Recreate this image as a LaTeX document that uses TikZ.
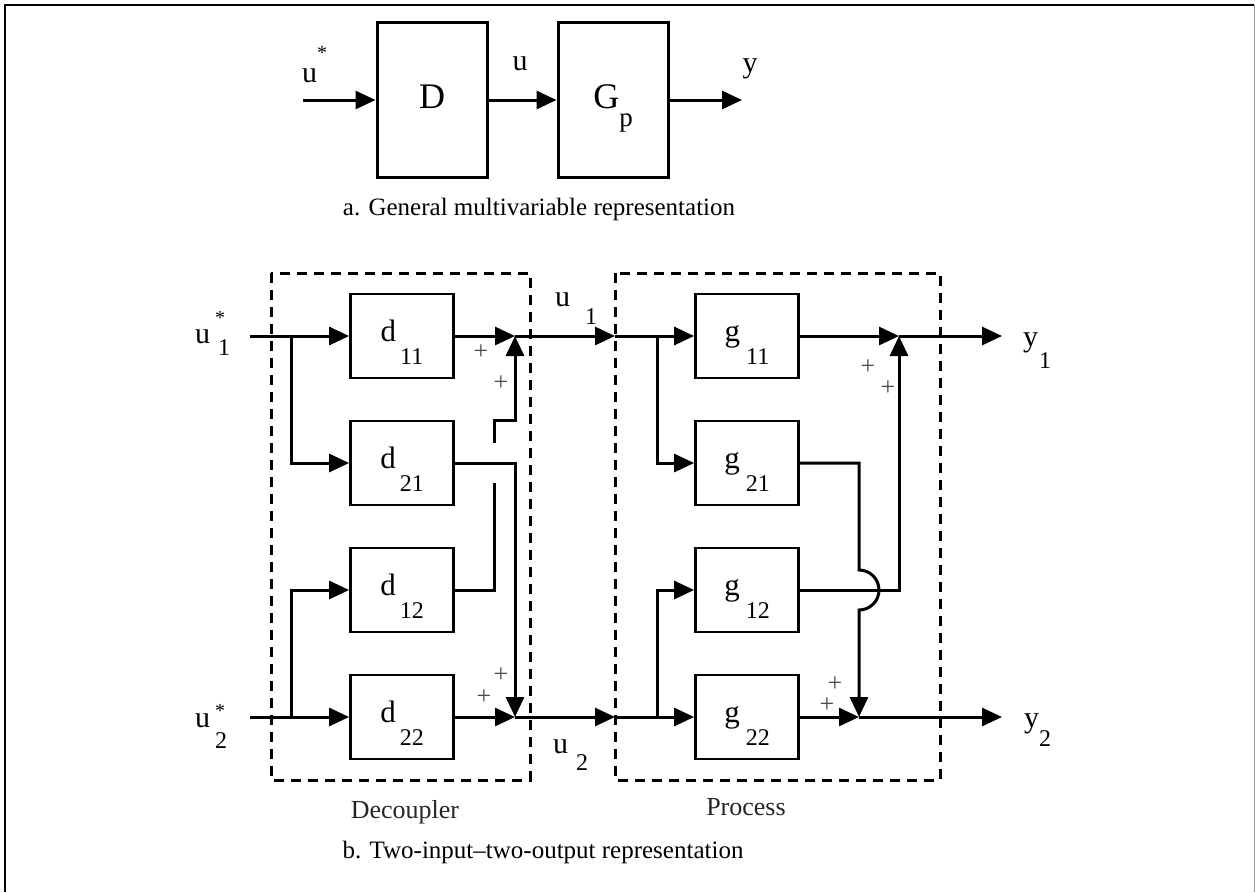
\documentclass[tikz,border=0pt]{standalone}
\usepackage{fontspec}
\setmainfont{Liberation Serif}
\usetikzlibrary{arrows.meta}

\tikzset{
  blk/.style={draw, line width=2.8pt, inner sep=0pt, minimum width=103pt, minimum height=84pt,
    font=\fontsize{31}{31}\selectfont, text height=26pt, text depth=16pt},
  big/.style={draw, line width=3pt, inner sep=0pt, minimum width=110pt, minimum height=155pt,
    font=\fontsize{36}{36}\selectfont, text height=26pt, text depth=10pt},
  sig/.style={line width=3pt},
  arr/.style={sig, -{Triangle[length=20pt,width=18pt]}},
  frm/.style={line width=3pt, dash pattern=on 10pt off 7pt},
  lbl/.style={inner sep=0pt, font=\fontsize{30}{30}\selectfont},
  pls/.style={inner sep=0pt, font=\fontsize{26}{26}\selectfont, text=black!70},
  capt/.style={inner sep=0pt, font=\fontsize{25}{25}\selectfont},
  nam/.style={inner sep=0pt, font=\fontsize{26}{26}\selectfont, text=black!85},
}
\newcommand{\blab}[3]{#1\hspace{#3}\raisebox{-23pt}{\fontsize{24}{24}\selectfont #2}}
\newcommand{\smalltxt}[1]{{\fontsize{24}{24}\selectfont #1}}

\begin{document}
\begin{tikzpicture}[x=1pt,y=-1pt]
\useasboundingbox (0,0) rectangle (1255,892);
% outer frame
\draw[line width=2.6pt] (5,892) -- (5,5) -- (1254,5);
\draw[line width=1pt, black!40] (1254,5) -- (1254,892);

% a. general representation
\node[big] (D) at (432,100) {D};
\node[big] (Gp) at (613,100) {G\raisebox{-18pt}{\fontsize{27}{27}\selectfont p}};
\coordinate (uin) at (303,100);
\coordinate (yout) at (742,100);
\draw[arr] (uin) -- (D);
\draw[arr] (D) -- (Gp);
\draw[arr] (Gp) -- (yout);
\node[lbl, anchor=base west] (ustar) at (302,82) {u\raisebox{23pt}{\fontsize{20}{20}\selectfont *}};
\node[lbl, anchor=base] (ulbl) at (520,70) {u};
\node[lbl, anchor=base] (ylbl) at (750,72) {y};
\node[capt, anchor=base] (capa) at (539,215) {a. General multivariable representation};

% b. two-input--two-output representation
\draw[frm] (271,273) rectangle (530,780);
\draw[frm] (615,273) rectangle (940,780);

\node[blk] (d11) at (402,336) {\blab{d}{11}{4pt}};
\node[blk] (d21) at (402,463) {\blab{d}{21}{4pt}};
\node[blk] (d12) at (402,590) {\blab{d}{12}{4pt}};
\node[blk] (d22) at (402,717) {\blab{d}{22}{4pt}};
\node[blk] (g11) at (747,336) {\blab{g}{11}{6pt}};
\node[blk] (g21) at (747,463) {\blab{g}{21}{6pt}};
\node[blk] (g12) at (747,590) {\blab{g}{12}{6pt}};
\node[blk] (g22) at (747,717) {\blab{g}{22}{6pt}};

\coordinate (s1) at (250,336);
\coordinate (s2) at (250,717);
\coordinate (b1) at (291,336);
\coordinate (b2) at (291,717);
\coordinate (sm1) at (515,336);
\coordinate (sm2) at (515,717);
\coordinate (j1) at (494,483);
\coordinate (j2) at (494,443);
\coordinate (k1) at (494,420);
\coordinate (pin1) at (615,336);
\coordinate (pin2) at (615,717);
\coordinate (c1) at (657,336);
\coordinate (c2) at (657,717);
\coordinate (sp1) at (899,336);
\coordinate (sp2) at (859,717);
\coordinate (h1) at (859,570);
\coordinate (out1) at (1002,336);
\coordinate (out2) at (1002,717);

% decoupler
\draw[sig] (s1) -- (b1);
\draw[arr] (b1) -- (d11);
\draw[arr] (b1) |- (d21);
\draw[sig] (s2) -- (b2);
\draw[arr] (b2) -- (d22);
\draw[arr] (b2) |- (d12);
\draw[arr] (d11) -- (sm1);
\draw[arr] (d22) -- (sm2);
\draw[arr] (d21.east) -| (sm2);
\draw[sig] (d12.east) -| (j1);
\draw[arr] (j2) -- (k1) -| (sm1);

% process
\draw[arr] (sm1) -- (pin1);
\draw[arr] (sm2) -- (pin2);
\draw[sig] (pin1) -- (c1);
\draw[sig] (pin2) -- (c2);
\draw[arr] (c1) -- (g11);
\draw[arr] (c1) |- (g21);
\draw[arr] (c2) -- (g22);
\draw[arr] (c2) |- (g12);
\draw[arr] (g11) -- (sp1);
\draw[arr] (g22) -- (sp2);
\draw[arr] (g12.east) -| (sp1);
\draw[arr] (g21.east) -| (h1) arc[start angle=-90, end angle=90, radius=20] -- (sp2);
\draw[arr] (sp1) -- (out1);
\draw[arr] (sp2) -- (out2);

% signs
\node[pls] (p1) at (481,352) {+};
\node[pls] (p2) at (501,383) {+};
\node[pls] (p3) at (501,675) {+};
\node[pls] (p4) at (484,697) {+};
\node[pls] (p5) at (868,367) {+};
\node[pls] (p6) at (888,388) {+};
\node[pls] (p7) at (835,684) {+};
\node[pls] (p8) at (827,705) {+};

% signal labels
\node[lbl, anchor=base west] (u1s) at (195,343) {u\hspace{5pt}\rlap{\raisebox{19pt}{\fontsize{20}{20}\selectfont *}}\hspace{3pt}\raisebox{-12pt}{\smalltxt{1}}};
\node[lbl, anchor=base west] (u2s) at (195,727) {u\hspace{5pt}\rlap{\raisebox{10pt}{\fontsize{20}{20}\selectfont *}}\raisebox{-21pt}{\smalltxt{2}}};
\node[lbl, anchor=base west] (u1) at (555,306) {u\hspace{15pt}\raisebox{-18pt}{\smalltxt{1}}};
\node[lbl, anchor=base west] (u2) at (553,753) {u\hspace{8pt}\raisebox{-17pt}{\smalltxt{2}}};
\node[lbl, anchor=base west] (y1) at (1023,346) {y\hspace{1pt}\raisebox{-22pt}{\smalltxt{1}}};
\node[lbl, anchor=base west] (y2) at (1024,727) {y\raisebox{-19pt}{\smalltxt{2}}};

\node[nam, anchor=base] (dec) at (405,818) {Decoupler};
\node[nam, anchor=base] (proc) at (746,815) {Process};
\node[capt, anchor=base] (capb) at (543,858) {b. Two-input--two-output representation};
\end{tikzpicture}
\end{document}
